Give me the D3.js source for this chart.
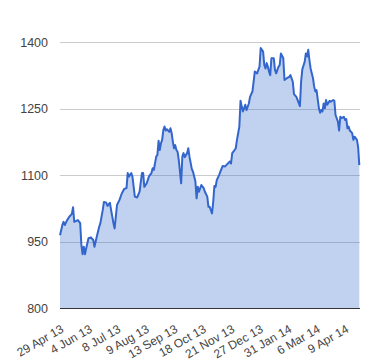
<!DOCTYPE html>
<html>
<head>
<meta charset="utf-8">
<script src="https://cdn.jsdelivr.net/npm/d3@7"></script>
<style>
  html, body { margin: 0; padding: 0; background: #fff; }
  svg text { font-family: Arial, "Liberation Sans", sans-serif; }
</style>
</head>
<body>
<svg id="chart" width="380" height="360"></svg>
<script>
// Trading-day index (0 = 29 Apr 13) and closing value
const dayIndex = [0,2,3,4,6,8,10,11,12,15,17,18,19,20,21,22,24,26,28,29,31,33,34,36,37,39,40,42,43,45,46,47,48,50,52,54,56,57,58,60,61,63,65,67,69,70,71,73,75,77,78,79,81,82,83,84,85,86,87,88,89,90,92,93,94,95,96,97,98,99,100,102,103,104,105,107,108,109,111,112,114,115,116,117,119,121,122,124,125,126,128,129,130,131,132,134,135,137,139,140,143,144,145,147,148,149,151,152,153,154,156,157,159,160,162,163,164,166,167,168,169,171,172,173,174,175,176,177,178,180,181,182,184,185,186,188,189,191,193,194,196,197,199,200,202,203,204,206,207,208,209,210,211,213,214,215,216,218,219,220,221,222,223,224,225,227,228,230,231,232,234,235,236,237,239,240,241,242,243,244,246,247,248,250,251,252];
const price = [965,988,995,988,999,1007,1013,1028,995,999,992,943,922,939,922,935,958,960,954,939,962,984,992,1022,1040,1038,1031,1038,1022,992,980,1007,1033,1044,1059,1069,1071,1105,1097,1105,1097,1052,1050,1063,1105,1105,1074,1082,1098,1105,1116,1112,1142,1146,1178,1157,1172,1180,1202,1210,1201,1204,1198,1206,1195,1176,1161,1168,1157,1153,1135,1082,1142,1150,1141,1150,1161,1142,1114,1108,1086,1048,1074,1063,1078,1071,1063,1052,1029,1029,1014,1040,1076,1074,1089,1101,1108,1121,1120,1123,1131,1127,1150,1157,1161,1180,1210,1268,1255,1244,1259,1247,1262,1277,1289,1311,1334,1330,1338,1345,1387,1379,1349,1341,1353,1345,1334,1326,1364,1364,1338,1330,1345,1349,1375,1364,1315,1319,1322,1326,1311,1283,1277,1270,1256,1311,1339,1356,1375,1368,1383,1360,1341,1319,1300,1289,1292,1251,1241,1247,1244,1262,1251,1270,1259,1268,1266,1270,1268,1236,1221,1201,1232,1229,1232,1225,1227,1206,1210,1201,1195,1180,1187,1180,1164,1123];
const tickIndex = [0,24,48,72,96,120,144,168,192,216,240];
const tickLabels = ["29 Apr 13","4 Jun 13","8 Jul 13","9 Aug 13","13 Sep 13","18 Oct 13","21 Nov 13","27 Dec 13","31 Jan 14","6 Mar 14","9 Apr 14"];
const yTicks = [800,950,1100,1250,1400];

const data = dayIndex.map((d, i) => ({ x: d, y: price[i] }));

const svg = d3.select("#chart");
const mLeft = 60, mRight = 359.3, mTop = 42.3, mBottom = 308.3;

const x = d3.scaleLinear().domain([0, 252]).range([mLeft, mRight]);
const y = d3.scaleLinear().domain([800, 1400]).range([mBottom, mTop]);

// gridlines
svg.append("g")
  .selectAll("line")
  .data(yTicks.filter(t => t !== 800))
  .join("line")
  .attr("x1", mLeft).attr("x2", mRight + 0.7)
  .attr("y1", d => Math.round(y(d)) + 0.5).attr("y2", d => Math.round(y(d)) + 0.5)
  .attr("stroke", "#cccccc").attr("stroke-width", 1);

// area
const area = d3.area().x(d => x(d.x)).y0(y(800)).y1(d => y(d.y));
svg.append("path").datum(data)
  .attr("d", area)
  .attr("fill", "#3366cc").attr("fill-opacity", 0.3);

// line
const line = d3.line().x(d => x(d.x)).y(d => y(d.y));
svg.append("path").datum(data)
  .attr("d", line)
  .attr("fill", "none").attr("stroke", "#3366cc").attr("stroke-width", 2)
  .attr("stroke-linejoin", "round");

// baseline
svg.append("line")
  .attr("x1", mLeft).attr("x2", mRight + 0.7)
  .attr("y1", Math.round(y(800)) + 0.5).attr("y2", Math.round(y(800)) + 0.5)
  .attr("stroke", "#333333").attr("stroke-width", 1);

// y axis labels
const yAxis = d3.axisLeft(y).tickValues(yTicks).tickSize(0).tickPadding(12)
  .tickFormat(d3.format("d"));
const yg = svg.append("g").attr("transform", `translate(${mLeft},0)`).call(yAxis);
yg.select(".domain").remove();
yg.selectAll("text").attr("font-size", 12.5).attr("fill", "#444")
  .attr("font-family", "Arial, 'Liberation Sans', sans-serif");

// x axis labels
const xAxis = d3.axisBottom(x).tickValues(tickIndex).tickSize(0)
  .tickFormat((d, i) => tickLabels[i]);
const xg = svg.append("g").attr("transform", `translate(0,${mBottom})`).call(xAxis);
xg.select(".domain").remove();
xg.selectAll("text")
  .attr("font-size", 12).attr("fill", "#444")
  .attr("font-family", "Arial, 'Liberation Sans', sans-serif")
  .attr("text-anchor", "end")
  .attr("dy", null).attr("y", null)
  .attr("transform", "translate(4,23) rotate(-30)");
</script>
</body>
</html>
